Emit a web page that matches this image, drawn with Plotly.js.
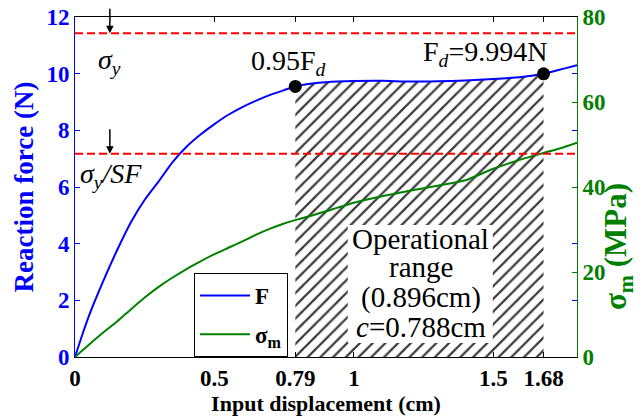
<!DOCTYPE html>
<html>
<head>
<meta charset="utf-8">
<script src="https://cdn.plot.ly/plotly-3.0.1.min.js"></script>
<style>html,body{margin:0;padding:0;background:#fff;}#chart{width:643px;height:416px;}</style>
</head>
<body>
<div id="chart"></div>
<script>
// ---- data ----
const disp = [0, 0.025, 0.05, 0.1, 0.15, 0.2, 0.25, 0.3, 0.35, 0.4, 0.45, 0.5, 0.55, 0.6, 0.65, 0.7, 0.75, 0.79, 0.85, 0.9, 1.0, 1.1, 1.2, 1.3, 1.4, 1.5, 1.6, 1.68, 1.75, 1.8];
const force = [0, 0.75, 1.45, 2.65, 3.75, 4.75, 5.55, 6.2, 6.88, 7.42, 7.85, 8.22, 8.55, 8.82, 9.05, 9.25, 9.42, 9.55, 9.65, 9.7, 9.74, 9.75, 9.72, 9.73, 9.76, 9.81, 9.88, 9.994, 10.17, 10.3];
const stress = [0, 1.45, 2.9, 5.7, 8.3, 11.2, 14.0, 16.5, 18.7, 20.7, 22.5, 24.2, 25.7, 27.2, 28.8, 30.2, 31.4, 32.2, 33.3, 34.3, 36.3, 37.8, 39.1, 40.3, 41.6, 44.3, 46.5, 48.0, 49.3, 50.4];
const rangeStart = 0.79;   // 0.95 Fd point
const rangeEnd = 1.68;     // Fd point
const sigmaY = 76.2;       // MPa
const sigmaYSF = 47.8;     // MPa
const xTickVals = [0, 0.5, 0.79, 1, 1.5, 1.68];
const xTickText = ['0', '0.5', '0.79', '1', '1.5', '1.68'];
const yTickVals = [0, 2, 4, 6, 8, 10, 12];
const y2TickVals = [0, 20, 40, 60, 80];

// ---- derived ----
const hatchX = [], hatchY = [];
disp.forEach((d, i) => { if (d >= rangeStart - 1e-9 && d <= rangeEnd + 1e-9) { hatchX.push(d); hatchY.push(force[i]); } });
const iStart = disp.indexOf(rangeStart), iEnd = disp.indexOf(rangeEnd);

const BLUE = '#0000FF', GREEN = '#008000', RED = '#FF0000';
const SERIF = 'Liberation Serif';

const traces = [
  { x: hatchX, y: hatchY, type: 'scatter', mode: 'lines', fill: 'tozeroy',
    line: { width: 0, color: 'rgba(0,0,0,0)', shape: 'spline', smoothing: 0.6 },
    fillpattern: { shape: '/', size: 9, solidity: 0.25, fgcolor: '#3a3a3a', bgcolor: 'white' },
    showlegend: false, hoverinfo: 'skip' },
  { x: disp, y: force, type: 'scatter', mode: 'lines', name: 'F',
    line: { color: BLUE, width: 2, shape: 'spline', smoothing: 0.6 }, legendgroup: 'a' },
  { x: disp, y: stress, type: 'scatter', mode: 'lines', name: 'σ<sub>m</sub>', yaxis: 'y2',
    line: { color: GREEN, width: 2, shape: 'spline', smoothing: 0.6 }, legendgroup: 'b' },
  { x: [disp[iStart], disp[iEnd]], y: [force[iStart], force[iEnd]], type: 'scatter', mode: 'markers',
    marker: { color: 'black', size: 13 }, showlegend: false, cliponaxis: false }
];

const annFont = { family: SERIF, size: 28, color: 'black' };
const boxFont = { family: SERIF, size: 29, color: 'black' };
const boxX = 1.24;
function txt(x, y, text, font, extra) {
  return Object.assign({ x: x, y: y, xref: 'x', yref: 'paper', xanchor: 'center', yanchor: 'middle',
    showarrow: false, text: text, font: font }, extra || {});
}

const layout = {
  width: 643, height: 416,
  margin: { l: 75, r: 66, t: 17, b: 59, pad: 0 },
  paper_bgcolor: 'white', plot_bgcolor: 'white',
  showlegend: true,
  legend: { x: 0.237, y: 0, xanchor: 'left', yanchor: 'bottom', bgcolor: 'white',
    bordercolor: 'black', borderwidth: 1, tracegroupgap: 6, itemwidth: 50,
    font: { family: SERIF, size: 23, weight: 'bold', color: 'black' } },
  xaxis: { range: [0, 1.8], tickvals: xTickVals, ticktext: xTickText, ticks: 'inside', ticklen: 5,
    tickcolor: 'black', showline: true, linecolor: 'black', linewidth: 1, mirror: 'ticks',
    showgrid: false, zeroline: false,
    tickfont: { family: SERIF, size: 23, weight: 'bold', color: 'black' },
    title: { text: 'Input displacement (cm)', font: { family: SERIF, size: 22, weight: 'bold', color: 'black' }, standoff: 4 } },
  yaxis: { range: [0, 12], tickvals: yTickVals, ticks: 'inside', ticklen: 5, tickcolor: BLUE,
    showline: true, linecolor: BLUE, linewidth: 1, mirror: 'ticks', showgrid: false, zeroline: false,
    tickfont: { family: SERIF, size: 23, weight: 'bold', color: BLUE },
    title: { text: 'Reaction force (N)', font: { family: SERIF, size: 27, weight: 'bold', color: BLUE }, standoff: 4 } },
  yaxis2: { range: [0, 80], tickvals: y2TickVals, overlaying: 'y', side: 'right', ticks: 'inside', ticklen: 5,
    tickcolor: GREEN, showline: true, linecolor: GREEN, linewidth: 1, showgrid: false, zeroline: false,
    tickfont: { family: SERIF, size: 23, weight: 'bold', color: GREEN } },
  shapes: [
    { type: 'line', xref: 'paper', x0: 0, x1: 1, yref: 'y2', y0: sigmaY, y1: sigmaY,
      line: { color: RED, width: 2, dash: '8px,4px' } },
    { type: 'line', xref: 'paper', x0: 0, x1: 1, yref: 'y2', y0: sigmaYSF, y1: sigmaYSF,
      line: { color: RED, width: 2, dash: '8px,4px' } },
    { type: 'rect', xref: 'x', yref: 'paper', x0: 0.978, x1: 1.498, y0: 0.041, y1: 0.388,
      fillcolor: 'white', line: { width: 0 }, layer: 'above' }
  ],
  annotations: [
    { x: 0.125, y: sigmaY, xref: 'x', yref: 'y2', ax: 0, ay: -26, showarrow: true, arrowhead: 2,
      arrowsize: 1, arrowwidth: 1.5, arrowcolor: 'black', standoff: 0, text: '' },
    { x: 0.125, y: sigmaYSF, xref: 'x', yref: 'y2', ax: 0, ay: -26, showarrow: true, arrowhead: 2,
      arrowsize: 1, arrowwidth: 1.5, arrowcolor: 'black', standoff: 0, text: '' },
    txt(0.125, 0.868, '<i>σ<sub>y</sub></i>', annFont),
    txt(0.13, 0.535, '<i>σ<sub>y</sub>/SF</i>', annFont),
    txt(0.767, 0.865, '0.95F<sub><i>d</i></sub>', annFont),
    txt(1.47, 0.894, 'F<sub><i>d</i></sub>=9.994N', annFont),
    txt(boxX, 0.347, 'Operational', boxFont),
    txt(boxX, 0.266, 'range', boxFont),
    txt(boxX, 0.174, '(0.896cm)', boxFont),
    txt(boxX, 0.088, '<i>c</i>=0.788cm', boxFont),
    { x: 1.082, y: 0.324, xref: 'paper', yref: 'paper', xanchor: 'center', yanchor: 'middle',
      showarrow: false, textangle: -90, text: '<b>σ<sub>m</sub> (MPa)</b>',
      font: { family: SERIF, size: 31, weight: 'bold', color: GREEN } }
  ]
};

Plotly.newPlot('chart', traces, layout, { staticPlot: true, displayModeBar: false });
</script>
</body>
</html>
